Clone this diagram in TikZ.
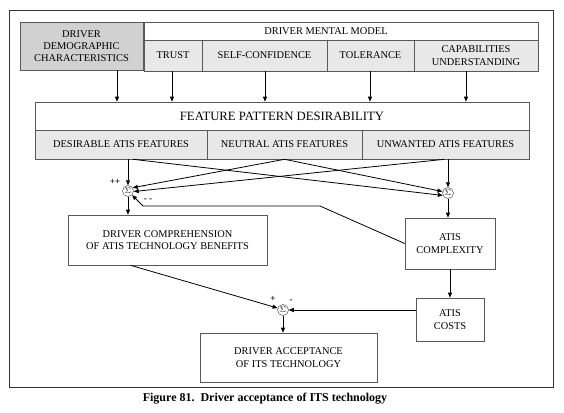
\documentclass[tikz,border=0pt]{standalone}
\usepackage{fontspec}
\setmainfont{Liberation Serif}
\usetikzlibrary{arrows.meta}
\begin{document}
\begin{tikzpicture}[x=1pt,y=-1pt,
  box/.style={draw=black!65,line width=0.6pt,align=center,inner sep=0pt,
    font=\fontsize{10.4}{12.3}\selectfont},
  shadeA/.style={fill=black!18},
  shadeB/.style={fill=black!9},
  sumn/.style={circle,draw=black!70,line width=0.5pt,minimum size=11pt,inner sep=0pt,
    font=\fontsize{8}{8}\selectfont},
  arr/.style={line width=0.8pt,-{Triangle[length=5pt,width=4pt]}},
  sgn/.style={font=\fontsize{9}{9}\selectfont\bfseries,inner sep=0pt}]
\useasboundingbox (0,0) rectangle (564,412);
% frame
\draw[line width=0.8pt,black!80] (9,10) rectangle (553,387);
% top row
\node[box,shadeA,minimum width=123pt,minimum height=48pt] (demo) at (81.5,46)
  {DRIVER\\DEMOGRAPHIC\\CHARACTERISTICS};
\node[box,minimum width=394pt,minimum height=18pt] (mmhead) at (341,31) {};
\node[font=\fontsize{10.4}{12}\selectfont,inner sep=0pt] (mmtext) at (326,31) {DRIVER MENTAL MODEL};
\node[box,shadeB,minimum width=58pt,minimum height=31pt] (trust) at (173,55.5) {TRUST};
\node[box,shadeB,minimum width=125pt,minimum height=31pt] (selfc) at (264.5,55.5) {SELF-CONFIDENCE};
\node[box,shadeB,minimum width=87pt,minimum height=31pt] (toler) at (370.5,55.5) {TOLERANCE};
\node[box,shadeB,minimum width=124pt,minimum height=31pt] (capab) at (476,55.5) {CAPABILITIES\\UNDERSTANDING};
% feature pattern
\node[box,minimum width=494pt,minimum height=28pt,font=\fontsize{12.7}{14}\selectfont] (fphead) at (282,116)
  {FEATURE PATTERN DESIRABILITY};
\node[box,shadeB,minimum width=172pt,minimum height=29pt] (desir) at (121,144.5) {DESIRABLE ATIS FEATURES};
\node[box,shadeB,minimum width=155pt,minimum height=29pt] (neutr) at (284.5,144.5) {NEUTRAL ATIS FEATURES};
\node[box,shadeB,minimum width=167pt,minimum height=29pt] (unwan) at (445.5,144.5) {UNWANTED ATIS FEATURES};
% arrows top row -> feature box
\coordinate (c1) at (117,0);
\coordinate (c2) at (172,0);
\coordinate (c3) at (265,0);
\coordinate (c4) at (370,0);
\coordinate (c5) at (466,0);
\draw[arr] (demo.south -| c1) -- (fphead.north -| c1);
\draw[arr] (trust.south -| c2) -- (fphead.north -| c2);
\draw[arr] (selfc.south -| c3) -- (fphead.north -| c3);
\draw[arr] (toler.south -| c4) -- (fphead.north -| c4);
\draw[arr] (capab.south -| c5) -- (fphead.north -| c5);
% summing nodes
\node[sumn] (s1) at (128,191) {$\Sigma$};
\node[sumn] (s2) at (448,193) {$\Sigma$};
\node[sumn] (s3) at (283,310) {$\Sigma$};
% boxes lower
\node[box,minimum width=199pt,minimum height=50pt] (comp) at (167.5,240)
  {DRIVER COMPREHENSION\\OF ATIS TECHNOLOGY BENEFITS};
\node[box,minimum width=90pt,minimum height=51pt] (cplx) at (450,243.5) {ATIS\\COMPLEXITY};
\node[box,minimum width=68pt,minimum height=43pt] (costs) at (450,319.5) {ATIS\\COSTS};
\node[box,minimum width=177pt,minimum height=49pt] (acc) at (288.5,357.5)
  {DRIVER ACCEPTANCE\\OF ITS TECHNOLOGY};
% feature -> sums
\draw[arr] (desir.south -| s1) -- (s1.north);
\draw[arr] (unwan.south -| s2) -- (s2.north);
\draw[arr] ([xshift=12pt]desir.south) -- (s2.205);
\draw[arr] (neutr.south) -- (s2.165);
\draw[arr] (neutr.south) -- (s1.35);
\draw[arr] ([xshift=-1pt]unwan.south) -- (s1.-5);
% feedback from complexity
\coordinate (fb1) at (320,206);
\coordinate (fb2) at (143,206);
\draw[arr] (cplx.west) -- (fb1) -- (fb2) -- (s1.-45);
% signs
\node[sgn] (p1) at (115,182) {++};
\node[sgn] (m1) at (144,187) {-};
\node[sgn] (m2) at (148,200) {- -};
\node[sgn] (p3) at (273,299) {+};
\node[sgn] (m3) at (291,301) {-};
% sums -> boxes
\draw[arr] (s1.south) -- (comp.north -| s1);
\draw[arr] (s2.south) -- (cplx.north -| s2);
\draw[arr] (cplx.south) -- (costs.north);
\draw[arr] ([xshift=-37pt]comp.south) -- (s3.160);
\draw[arr] (costs.west |- s3) -- (s3.east);
\draw[arr] (s3.south) -- (acc.north -| s3);
% caption
\node[font=\fontsize{12}{14}\selectfont\bfseries,inner sep=0pt] (cap) at (265,399)
  {Figure 81.\ \ Driver acceptance of ITS technology};
\end{tikzpicture}
\end{document}
